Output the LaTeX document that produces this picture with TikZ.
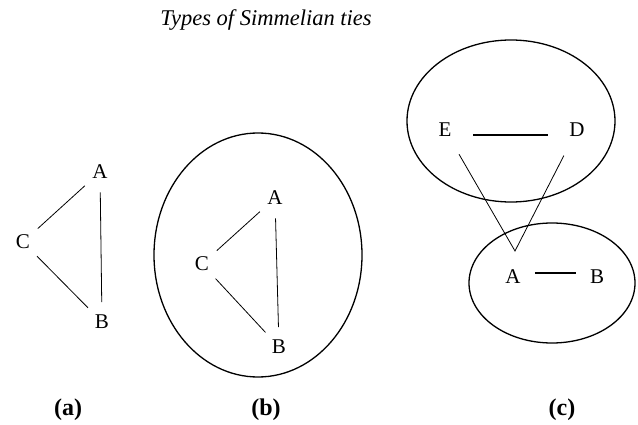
\documentclass[tikz,border=0pt]{standalone}
\usepackage{fontspec}
\setmainfont{Liberation Serif}
\usepackage{tikz}
\usetikzlibrary{calc}

\begin{document}
\begin{tikzpicture}[
    x=1pt, y=-1pt,
    vertex/.style={circle,inner sep=7pt,font=\fontsize{21}{25}\selectfont},
    cvertex/.style={vertex,inner sep=13pt},
    tie/.style={line width=0.8pt},
    strong/.style={line width=2.2pt},
    group/.style={line width=1.3pt},
    panel/.style={font=\fontsize{24}{28}\selectfont\bfseries},
  ]
  \useasboundingbox (0,0) rectangle (638,425);

  \node[font=\fontsize{22.5}{27}\selectfont\itshape] (title) at (266,20) {Types of Simmelian ties};

  % (a) bare triad
  \node[vertex] (aA) at (100,172) {A};
  \node[vertex] (aC) at (23,242)  {C};
  \node[vertex] (aB) at (102,322) {B};
  \draw[tie] (aC) -- (aA);
  \draw[tie] (aC) -- (aB);
  \draw[tie] (aA) -- (aB);

  % (b) triad inside one clique
  \draw[group] (258,255) ellipse [x radius=104, y radius=122];
  \node[vertex] (bA) at (275,198) {A};
  \node[vertex] (bC) at (202,264) {C};
  \node[vertex] (bB) at (279,347) {B};
  \draw[tie] (bC) -- (bA);
  \draw[tie] (bC) -- (bB);
  \draw[tie] (bA) -- (bB);

  % (c) two cliques bridged at A
  \draw[group] (511,121) ellipse [x radius=104, y radius=81];
  \draw[group] (552,283) ellipse [x radius=83, y radius=60];
  \node[cvertex] (cE) at (445,130) {E};
  \node[cvertex] (cD) at (577,130) {D};
  \node[cvertex] (cA) at (513,277) {A};
  \node[cvertex] (cB) at (597,277) {B};
  \coordinate (apex) at (515,251);
  \draw[strong,transform canvas={yshift=-5pt}] (cE) -- (cD);
  \draw[strong,transform canvas={yshift=4pt},shorten <=-7pt,shorten >=-7pt] (cA) -- (cB);
  \draw[tie] (cE) -- (apex) -- (cD);

  % --- panel labels ---
  \node[panel] (pa) at (68,410)  {(a)};
  \node[panel] (pb) at (266,410) {(b)};
  \node[panel] (pc) at (562,410) {(c)};

\end{tikzpicture}
\end{document}
